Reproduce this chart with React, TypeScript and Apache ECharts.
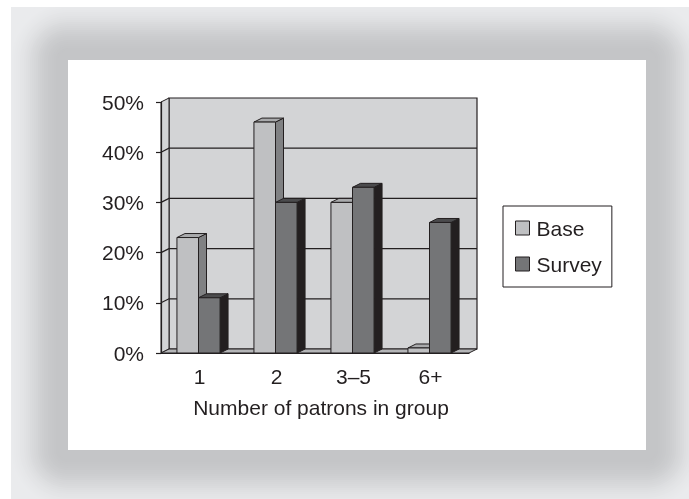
import React, { useEffect, useRef } from "react";
import * as echarts from "echarts";

// Share of groups by size, base population vs. survey sample
const categories = ["1", "2", "3–5", "6+"];
const baseShare = [0.23, 0.46, 0.3, 0.01];
const surveyShare = [0.11, 0.3, 0.33, 0.26];
const seriesNames = ["Base", "Survey"];

const Y_MAX = 0.5;
const Y_STEP = 0.1;
const gridValues = [0.1, 0.2, 0.3, 0.4];

// 3D look: depth offset of the back plane
const DEPTH_X = 8;
const DEPTH_Y = -4;

const INK = "#231f20";
const WALL = "#d3d4d6";
const FLOOR = "#b4b5b7";
const FONT = "'Liberation Sans', Arial, sans-serif";
const FONT_SIZE = 21;

const palette = [
  { front: "#bfc0c2", top: "#a9aaac", side: "#808183" },
  { front: "#747577", top: "#4b4b4d", side: "#231f20" },
];

// white card and the soft grey halo around it
const PANEL = { x: 68, y: 60, w: 578, h: 390 };
const HALO_INNER = [0xc4, 0xc5, 0xc7];
const HALO_OUTER = [0xea, 0xeb, 0xed];

function haloRects() {
  const out: any[] = [
    {
      type: "rect",
      z: -11,
      silent: true,
      shape: { x: 11, y: 7, width: 690, height: 500 },
      style: { fill: `rgb(${HALO_OUTER.join(",")})` },
    },
  ];
  for (let e = 62; e >= 10; e -= 2) {
    const t = Math.min(1, (e - 10) / 50);
    const s = t * t * (3 - 2 * t);
    const c = HALO_INNER.map((a, k) => Math.round(a + (HALO_OUTER[k] - a) * s));
    out.push({
      type: "rect",
      z: -10,
      silent: true,
      shape: {
        x: PANEL.x - e,
        y: PANEL.y - e,
        width: PANEL.w + 2 * e,
        height: PANEL.h + 2 * e,
        r: e,
      },
      style: { fill: `rgb(${c[0]},${c[1]},${c[2]})` },
    });
  }
  return out;
}

function renderWalls(params: any, api: any) {
  const bw = api.size([1, 0])[0];
  const c0 = api.coord([0, 0]);
  const left = c0[0] - bw / 2;
  const right = left + bw * categories.length;
  const y0 = c0[1];
  const yTop = api.coord([0, Y_MAX])[1];
  const children: any[] = [];
  // back wall
  children.push({
    type: "polygon",
    shape: {
      points: [
        [left + DEPTH_X, yTop + DEPTH_Y],
        [right + DEPTH_X, yTop + DEPTH_Y],
        [right + DEPTH_X, y0 + DEPTH_Y],
        [left + DEPTH_X, y0 + DEPTH_Y],
      ],
    },
    style: { fill: WALL, stroke: INK, lineWidth: 1.2 },
  });
  // left side wall
  children.push({
    type: "polygon",
    shape: {
      points: [
        [left, yTop],
        [left + DEPTH_X, yTop + DEPTH_Y],
        [left + DEPTH_X, y0 + DEPTH_Y],
        [left, y0],
      ],
    },
    style: { fill: WALL, stroke: INK, lineWidth: 1 },
  });
  // gridlines across side wall and back wall
  gridValues.forEach((v) => {
    const y = api.coord([0, v])[1];
    children.push({
      type: "polyline",
      shape: {
        points: [
          [left, y],
          [left + DEPTH_X, y + DEPTH_Y],
          [right + DEPTH_X, y + DEPTH_Y],
        ],
      },
      style: { fill: null, stroke: INK, lineWidth: 1.2 },
    });
  });
  // floor
  children.push({
    type: "polygon",
    shape: {
      points: [
        [left, y0],
        [right, y0],
        [right + DEPTH_X, y0 + DEPTH_Y],
        [left + DEPTH_X, y0 + DEPTH_Y],
      ],
    },
    style: { fill: FLOOR, stroke: INK, lineWidth: 1 },
  });
  return { type: "group", children };
}

function makeBarRenderer(slot: number) {
  const col = palette[slot];
  return (params: any, api: any) => {
    const i = api.value(0);
    const v = api.value(1);
    const bw = api.size([1, 0])[0];
    const top = api.coord([i, v]);
    const y0 = api.coord([i, 0])[1];
    const w = bw * 0.28;
    const x0 = top[0] - w * (1 - slot) - 1;
    const x1 = x0 + w;
    const yv = top[1];
    const stroke = { stroke: INK, lineWidth: 1 };
    return {
      type: "group",
      children: [
        {
          type: "polygon",
          shape: {
            points: [
              [x1, yv],
              [x1 + DEPTH_X, yv + DEPTH_Y],
              [x1 + DEPTH_X, y0 + DEPTH_Y],
              [x1, y0],
            ],
          },
          style: { fill: col.side, ...stroke },
        },
        {
          type: "polygon",
          shape: {
            points: [
              [x0, yv],
              [x0 + DEPTH_X, yv + DEPTH_Y],
              [x1 + DEPTH_X, yv + DEPTH_Y],
              [x1, yv],
            ],
          },
          style: { fill: col.top, ...stroke },
        },
        {
          type: "rect",
          shape: { x: x0, y: yv, width: w, height: y0 - yv },
          style: { fill: col.front, ...stroke },
        },
      ],
    };
  };
}

export default function App() {
  const ref = useRef<HTMLDivElement>(null);

  useEffect(() => {
    if (!ref.current) return;
    const chart = echarts.init(ref.current, undefined, { renderer: "svg" });
    const option: any = {
      animation: false,
      textStyle: { fontFamily: FONT, color: INK },
      graphic: [
        ...haloRects(),
        {
          type: "rect",
          z: -8,
          silent: true,
          shape: { x: PANEL.x, y: PANEL.y, width: PANEL.w, height: PANEL.h },
          style: { fill: "#ffffff" },
        },
        {
          type: "rect",
          z: -7,
          silent: true,
          shape: { x: 0, y: 0, width: 11, height: 499 },
          style: { fill: "#ffffff" },
        },
        {
          type: "rect",
          z: -7,
          silent: true,
          shape: { x: 0, y: 0, width: 689, height: 7 },
          style: { fill: "#ffffff" },
        },
      ],
      grid: { left: 161, right: 220, top: 102, bottom: 146, containLabel: false },
      legend: {
        data: seriesNames,
        orient: "vertical",
        left: 503,
        top: 206,
        padding: [11, 10, 12, 12],
        itemGap: 14,
        itemWidth: 14,
        itemHeight: 14,
        icon: "rect",
        borderColor: INK,
        borderWidth: 1,
        backgroundColor: "#ffffff",
        itemStyle: { borderColor: INK, borderWidth: 1 },
        textStyle: {
          fontFamily: FONT,
          fontSize: FONT_SIZE,
          color: INK,
          lineHeight: 22,
          padding: [0, 0, 0, 2],
        },
      },
      xAxis: {
        type: "category",
        data: categories,
        boundaryGap: true,
        name: "Number of patrons in group",
        nameLocation: "middle",
        nameGap: 44,
        nameTextStyle: {
          fontFamily: FONT,
          fontSize: FONT_SIZE,
          color: INK,
          padding: [0, 0, 0, 12],
        },
        axisLine: { lineStyle: { color: INK, width: 1.2 } },
        axisTick: { length: 7, lineStyle: { color: INK, width: 1.2 } },
        axisLabel: { margin: 13, fontFamily: FONT, fontSize: FONT_SIZE, color: INK },
        splitLine: { show: false },
        z: 5,
      },
      yAxis: {
        type: "value",
        min: 0,
        max: Y_MAX,
        interval: Y_STEP,
        axisLine: { show: true, lineStyle: { color: INK, width: 1.2 } },
        axisTick: { show: true, length: 5, lineStyle: { color: INK, width: 1.2 } },
        axisLabel: {
          margin: 17,
          fontFamily: FONT,
          fontSize: FONT_SIZE,
          color: INK,
          formatter: (v: number) => `${Math.round(v * 100)}%`,
        },
        splitLine: { show: false },
        z: 5,
      },
      series: [
        {
          type: "custom",
          name: "walls",
          silent: true,
          z: 1,
          renderItem: renderWalls,
          data: [[0, 0]],
          encode: { x: 0, y: 1 },
        },
        ...[baseShare, surveyShare].map((vals, s) => ({
          type: "custom",
          name: seriesNames[s],
          z: 3,
          itemStyle: { color: palette[s].front, borderColor: INK, borderWidth: 1 },
          renderItem: makeBarRenderer(s),
          data: vals.map((v, i) => [i, v]),
          encode: { x: 0, y: 1 },
        })),
      ],
    };
    chart.setOption(option);
    return () => chart.dispose();
  }, []);

  return (
    <div
      ref={ref}
      style={{ position: "fixed", left: 0, top: 0, width: 689, height: 499 }}
    />
  );
}
